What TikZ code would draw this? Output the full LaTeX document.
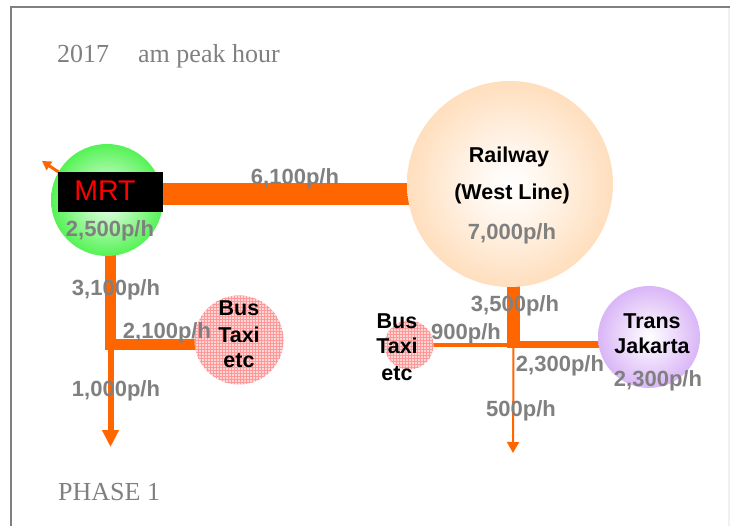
\documentclass[tikz,border=0pt]{standalone}
\usepackage{fontspec}
\setmainfont{Liberation Serif}
\newfontfamily\arialfont{Liberation Sans}
\usetikzlibrary{arrows.meta,patterns}

\definecolor{flowOrange}{HTML}{FF6600}
\definecolor{labelGray}{HTML}{808080}
\definecolor{mrtGreen}{HTML}{11EE11}
\definecolor{railPeach}{HTML}{FFC68C}
\definecolor{tjPurple}{HTML}{C38AF2}
\definecolor{busPink}{HTML}{FFD6D6}

\pgfdeclareradialshading{mrtball}{\pgfpoint{0bp}{0bp}}{color(0bp)=(white); color(6bp)=(white!80!mrtGreen); color(30bp)=(mrtGreen!85); color(50bp)=(mrtGreen)}
\pgfdeclareradialshading{railball}{\pgfpoint{0bp}{0bp}}{color(0bp)=(white); color(8bp)=(white!85!railPeach); color(32bp)=(railPeach!75); color(50bp)=(railPeach)}
\pgfdeclareradialshading{tjball}{\pgfpoint{0bp}{0bp}}{color(0bp)=(white); color(8bp)=(white!80!tjPurple); color(32bp)=(tjPurple!80); color(50bp)=(tjPurple)}

\tikzset{
  flow/.style={draw=flowOrange, line width=#1},
  station/.style={circle, inner sep=0pt, minimum size=#1},
  buscircle/.style={circle, inner sep=0pt, minimum size=#1, fill=busPink,
    postaction={pattern=grid, pattern color=red!40}},
  rate/.style={font=\arialfont\bfseries\fontsize{22}{24}\selectfont, text=labelGray, anchor=base, inner sep=0pt},
  stationname/.style={font=\arialfont\bfseries\fontsize{21.5}{24}\selectfont, text=black, anchor=base, inner sep=0pt},
  heading/.style={font=\fontsize{26}{28}\selectfont, text=labelGray, anchor=base west, inner sep=0pt},
}

\begin{document}
\begin{tikzpicture}[x=1pt, y=-1pt]
  \useasboundingbox (0,0) rectangle (730,526);
  \fill[white] (0,0) rectangle (730,526);

  % frame
  \draw[gray!12, line width=1.2] (729,8) -- (729,526);
  \draw[labelGray, line width=2] (11,530) -- (11,7.5) -- (730,7.5);

  % junctions and free arrow ends
  \coordinate (jmrt) at (110.5,344.5);
  \coordinate (jrail) at (513.5,344.5);
  \coordinate (mrtend) at (110.5,447);
  \coordinate (railend) at (513,453);
  \coordinate (mrtexit) at (42,161);

  % stations (placed first so connectors can refer to them)
  \path
    node[station=112] (mrt) at (107,200) {}
    node[station=206] (rail) at (510,184) {}
    node[station=102] (tj) at (649,337) {}
    node[station=89] (bus1) at (239,340) {}
    node[station=49] (bus2) at (409,345) {};

  % flows
  \draw[flow=3, -{Triangle[width=10pt,length=9pt]}] (mrt.150) -- (mrtexit);
  \draw[flow=22] (mrt.center |- 0,194) -- (rail.center |- 0,194);
  \draw[flow=11] (jmrt |- mrt.center) -- ([yshift=-5.5pt]jmrt);
  \draw[flow=11] ([xshift=-5.5pt]jmrt) -- (jmrt -| bus1.center);
  \draw[flow=6, -{Triangle[width=16pt,length=17pt]}] (jmrt) -- (mrtend);

  \draw[flow=13] (jrail |- rail.center) -- ([yshift=-3.5pt]jrail);
  \draw[flow=7] ([xshift=-6.5pt]jrail) -- (jrail -| tj.center);
  \draw[flow=4] (jrail) -- (jrail -| bus2.center);
  \draw[flow=2, -{Triangle[width=12pt,length=11pt]}] ([yshift=-1pt]jrail) -- (railend);

  % station discs
  \shade[shading=mrtball] (mrt.center) circle[radius=56];
  \shade[shading=railball] (rail.center) circle[radius=103];
  \shade[shading=tjball] (tj.center) circle[radius=51];
  \node[buscircle=89] at (bus1.center) {};
  \node[buscircle=49] at (bus2.center) {};

  % MRT label box
  \node[fill=black, minimum width=105pt, minimum height=40pt, inner sep=0pt] (mrtbox) at (110.5,192) {};
  \node[font=\arialfont\fontsize{28.5}{30}\selectfont, text=red, inner sep=0pt, anchor=base] (mrtname) at (105,201) {MRT};

  % station names
  \node[stationname] (railname1) at (509,163) {Railway};
  \node[stationname] (railname2) at (512,200) {(West Line)};
  \node[stationname] (bus1a) at (239,315) {Bus};
  \node[stationname] (bus1b) at (239,342) {Taxi};
  \node[stationname] (bus1c) at (239,367) {etc};
  \node[stationname] (bus2a) at (397,328) {Bus};
  \node[stationname] (bus2b) at (397,353) {Taxi};
  \node[stationname] (bus2c) at (397,380) {etc};
  \node[stationname] (tj1) at (652,328) {Trans};
  \node[stationname] (tj2) at (652,353) {Jakarta};

  % flow rates
  \node[rate] (r6100) at (295,185) {6,100p/h};
  \node[rate] (r2500) at (110,237) {2,500p/h};
  \node[rate] (r7000) at (512,240) {7,000p/h};
  \node[rate] (r3100) at (116,295) {3,100p/h};
  \node[rate] (r2100) at (167,338) {2,100p/h};
  \node[rate] (r1000) at (116,396) {1,000p/h};
  \node[rate] (r3500) at (515,312) {3,500p/h};
  \node[rate] (r900) at (466,339) {900p/h};
  \node[rate] (r2300a) at (560,371) {2,300p/h};
  \node[rate] (r2300b) at (658,386) {2,300p/h};
  \node[rate] (r500) at (521,416) {500p/h};

  % headings
  \node[heading] (title) at (57,63) {2017\hspace{29pt}am peak hour};
  \node[heading] (phase) at (58,500) {PHASE 1};
\end{tikzpicture}
\end{document}
